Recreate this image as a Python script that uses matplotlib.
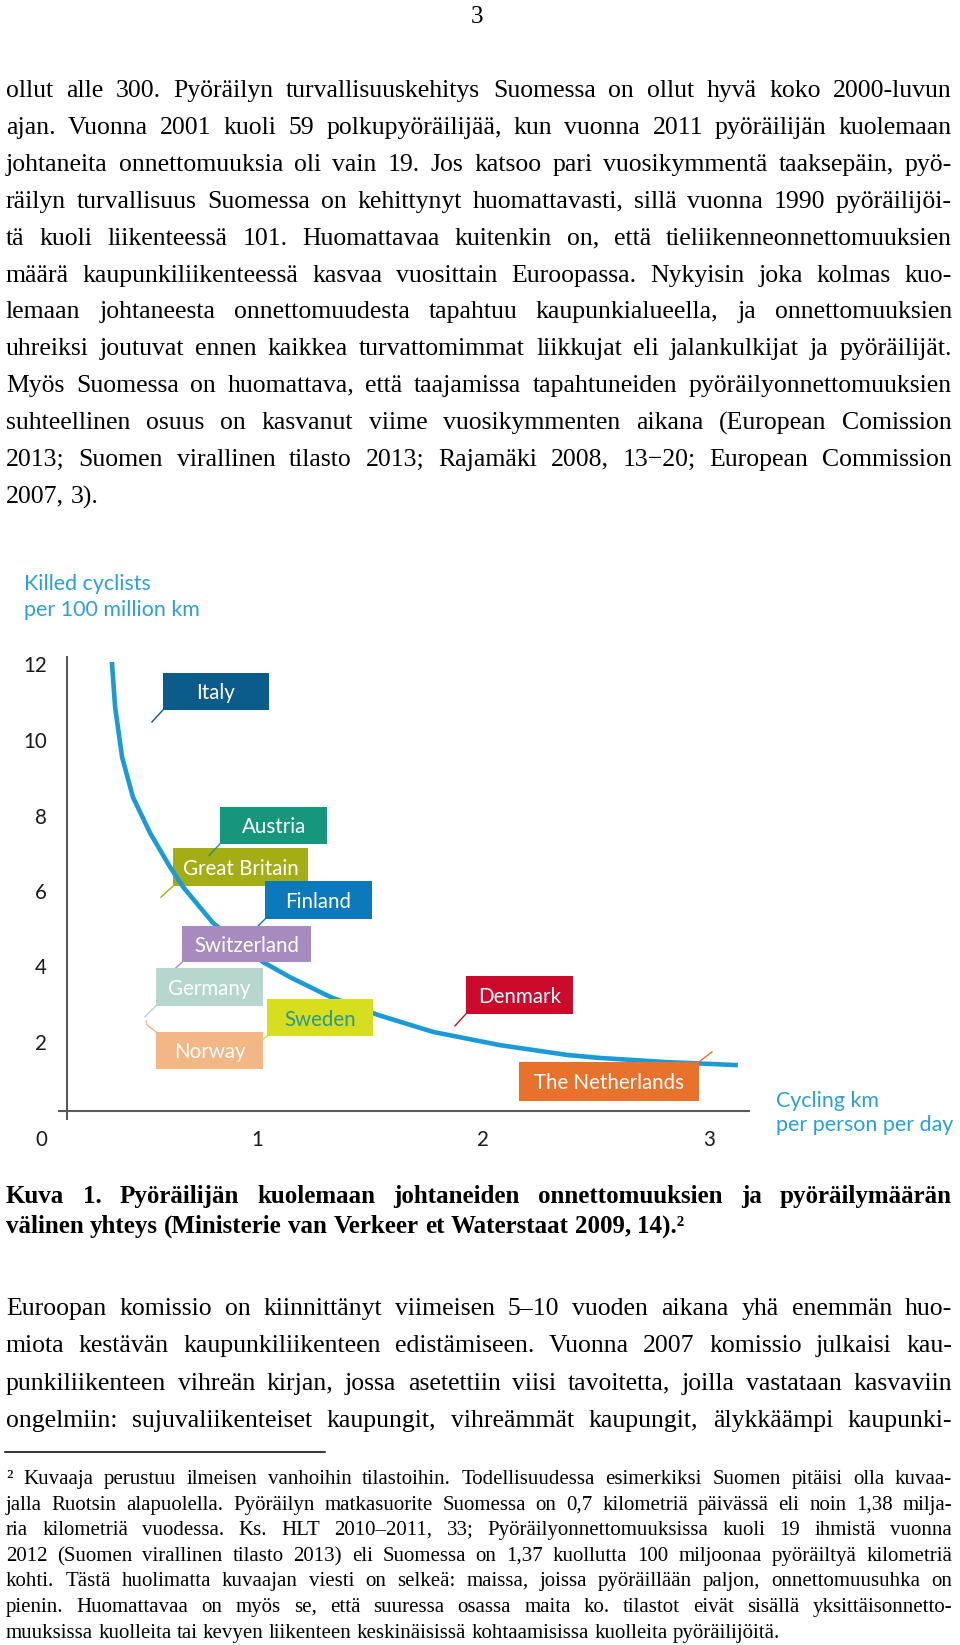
import math
import matplotlib
matplotlib.use('Agg')
import matplotlib.pyplot as plt
import matplotlib.transforms as mtransforms
from matplotlib.font_manager import FontProperties
from matplotlib.patches import Rectangle

W, H = 960, 1645

# page text
para1 = [
    "ollut alle 300. Pyöräilyn turvallisuuskehitys Suomessa on ollut hyvä koko 2000-luvun",
    "ajan. Vuonna 2001 kuoli 59 polkupyöräilijää, kun vuonna 2011 pyöräilijän kuolemaan",
    "johtaneita onnettomuuksia oli vain 19. Jos katsoo pari vuosikymmentä taaksepäin, pyö-",
    "räilyn turvallisuus Suomessa on kehittynyt huomattavasti, sillä vuonna 1990 pyöräilijöi-",
    "tä kuoli liikenteessä 101. Huomattavaa kuitenkin on, että tieliikenneonnettomuuksien",
    "määrä kaupunkiliikenteessä kasvaa vuosittain Euroopassa. Nykyisin joka kolmas kuo-",
    "lemaan johtaneesta onnettomuudesta tapahtuu kaupunkialueella, ja onnettomuuksien",
    "uhreiksi joutuvat ennen kaikkea turvattomimmat liikkujat eli jalankulkijat ja pyöräilijät.",
    "Myös Suomessa on huomattava, että taajamissa tapahtuneiden pyöräilyonnettomuuksien",
    "suhteellinen osuus on kasvanut viime vuosikymmenten aikana (European Comission",
    "2013; Suomen virallinen tilasto 2013; Rajamäki 2008, 13−20; European Commission",
    "2007, 3).",
]
caption = [
    "Kuva 1. Pyöräilijän kuolemaan johtaneiden onnettomuuksien ja pyöräilymäärän",
    "välinen yhteys (Ministerie van Verkeer et Waterstaat 2009, 14).²",
]
para2 = [
    "Euroopan komissio on kiinnittänyt viimeisen 5–10 vuoden aikana yhä enemmän huo-",
    "miota kestävän kaupunkiliikenteen edistämiseen. Vuonna 2007 komissio julkaisi kau-",
    "punkiliikenteen vihreän kirjan, jossa asetettiin viisi tavoitetta, joilla vastataan kasvaviin",
    "ongelmiin: sujuvaliikenteiset kaupungit, vihreämmät kaupungit, älykkäämpi kaupunki-",
]
footnote = [
    "² Kuvaaja perustuu ilmeisen vanhoihin tilastoihin. Todellisuudessa esimerkiksi Suomen pitäisi olla kuvaa-",
    "jalla Ruotsin alapuolella. Pyöräilyn matkasuorite Suomessa on 0,7 kilometriä päivässä eli noin 1,38 milja-",
    "ria kilometriä vuodessa. Ks. HLT 2010–2011, 33; Pyöräilyonnettomuuksissa kuoli 19 ihmistä vuonna",
    "2012 (Suomen virallinen tilasto 2013) eli Suomessa on 1,37 kuollutta 100 miljoonaa pyöräiltyä kilometriä",
    "kohti. Tästä huolimatta kuvaajan viesti on selkeä: maissa, joissa pyöräillään paljon, onnettomuusuhka on",
    "pienin. Huomattavaa on myös se, että suuressa osassa maita ko. tilastot eivät sisällä yksittäisonnetto-",
    "muuksissa kuolleita tai kevyen liikenteen keskinäisissä kohtaamisissa kuolleita pyöräilijöitä.",
]

# chart data (cycling km per person per day, killed cyclists per 100 million km)
curve_x = [0.358, 0.372, 0.403, 0.451, 0.527, 0.615, 0.673, 0.805, 1.027, 1.146,
           1.323, 1.535, 1.779, 2.075, 2.372, 2.518, 2.814, 3.128]
curve_y = [12.12, 10.93, 9.60, 8.54, 7.59, 6.69, 6.16, 5.21, 4.17, 3.77,
           3.25, 2.77, 2.32, 1.97, 1.71, 1.63, 1.52, 1.44]

countries = ["Italy", "Austria", "Great Britain", "Finland", "Switzerland",
             "Germany", "Norway", "Sweden", "Denmark", "The Netherlands"]
country_x = [0.535, 0.788, 0.575, 0.982, 0.611, 0.504, 0.509, 1.027, 1.876, 3.013]
country_y = [10.53, 6.99, 5.89, 4.99, 3.85, 2.72, 2.61, 2.13, 2.48, 1.79]
box_colors = ["#0b5b8b", "#17967e", "#a4ad14", "#0b79bb", "#a78bbf",
              "#b6d6ce", "#f2b784", "#d6de1e", "#cb0a2c", "#e8712b"]
label_colors = ["white"] * 7 + ["#2a9a8c"] + ["white"] * 2

y_ticks = [2, 4, 6, 8, 10, 12]
x_ticks = [1, 2, 3]

fig = plt.figure(figsize=(W / 100, H / 100), dpi=100)
renderer = fig.canvas.get_renderer()
SERIF = "Liberation Serif"


def text_width(s, size, **kw):
    t = fig.text(0, 0, s, fontsize=size, **kw)
    w = t.get_window_extent(renderer).width
    t.remove()
    return w


def baseline_shift(word, size, weight):
    # Agg snaps each text bitmap to whole pixels using the ink descent,
    # which moves words like "on," by a pixel; undo that per word
    prop = FontProperties(family=SERIF, size=size, weight=weight)
    _, h, d = renderer.get_text_width_height_descent(word, prop, ismath=False)
    return round(d) - math.floor(h) + math.floor(h - d)


def draw_block(lines, base0, step, max_size, weight="normal", justify_last=False,
               x0=6, x1=952):
    # one text per word, spaces stretched so each full line is justified
    n_just = len(lines) if justify_last else len(lines) - 1
    size = max_size
    for ln in lines[:n_just]:
        words = ln.split()
        need = sum(text_width(w, 10, family=SERIF, weight=weight) for w in words) / 10
        need += (len(words) - 1) * 0.17 * 100 / 72
        size = min(size, (x1 - x0) / need)
    for i, ln in enumerate(lines):
        words = ln.split()
        ws = [text_width(w, size, family=SERIF, weight=weight) for w in words]
        if i < n_just and len(words) > 1:
            gap = (x1 - x0 - sum(ws)) / (len(words) - 1)
        else:
            gap = 0.25 * size * 100 / 72
        x = x0
        y = round(base0 + i * step)
        for word, w in zip(words, ws):
            yy = y - baseline_shift(word, size, weight)
            fig.text(x / W, 1 - yy / H, word, fontsize=size, family=SERIF,
                     weight=weight, va="baseline", ha="left")
            x += w + gap


fig.text(477 / W, 1 - 23 / H, "3", fontsize=18, family=SERIF, ha="center", va="baseline")
draw_block(para1, 97, 36.9, 18.5)
draw_block(caption, 1203, 30, 18, weight="bold")
draw_block(para2, 1315, 37.3, 18.5, justify_last=True)
fig.add_artist(plt.Line2D([5 / W, 325 / W], [1 - 1452 / H, 1 - 1452 / H],
                          color="black", lw=1.1))
draw_block(footnote, 1484, 25.6, 15)

# chart
PX_X, PX_Y = 226.0, 37.75      # pixels per data unit
OX, OY = 31.0, 1119.5           # pixel position of data origin
ax = fig.add_axes([0, 1 - 1160 / H, 1, 630 / H])
ax.set_xlim(-OX / PX_X, (W - OX) / PX_X)
ax.set_ylim((OY - 1160) / PX_Y, (OY - 530) / PX_Y)
ax.axis("off")


def px(x, y):
    return (x - OX) / PX_X, (OY - y) / PX_Y


axis_col = "#58595b"
ax.plot([px(67, 0)[0]] * 2, [px(0, 1120)[1], px(0, 656)[1]], color=axis_col, lw=1.5,
        solid_capstyle="butt")
ax.plot([px(58, 0)[0], px(750, 0)[0]], [px(0, 1111)[1]] * 2, color=axis_col, lw=1.5,
        solid_capstyle="butt")
ax.plot(curve_x, curve_y, color="#1a9bd7", lw=3.3, solid_capstyle="butt", zorder=2)

tick_size = 10 * 24 / text_width("12", 10, family="Lato")
for v in y_ticks:
    ax.text(px(47, 0)[0], v, str(v), fontsize=tick_size, family="Lato",
            ha="right", va="center", color="#1a1a1a")
for v in x_ticks:
    ax.text(v, px(0, 1140)[1], str(v), fontsize=tick_size, family="Lato",
            ha="center", va="center", color="#1a1a1a")
ax.text(px(41, 0)[0], px(0, 1140)[1], "0", fontsize=tick_size, family="Lato",
        ha="center", va="center", color="#1a1a1a")

title_col = "#2b9fd8"
title_size = 10 * 175 / text_width("per 100 million km", 10, family="Lato")
ax.text(*px(24, 590), "Killed cyclists", fontsize=title_size, family="Lato",
        color=title_col, va="baseline")
ax.text(*px(24, 616), "per 100 million km", fontsize=title_size, family="Lato",
        color=title_col, va="baseline")
ax.text(*px(776, 1107), "Cycling km", fontsize=title_size, family="Lato",
        color=title_col, va="baseline")
ax.text(*px(776, 1131), "per person per day", fontsize=title_size, family="Lato",
        color=title_col, va="baseline")

# label boxes: offsets in pixels from the country point (dx, dy up, w, h)
boxes = {
    "Italy": (11, 12, 106, 37),
    "Austria": (11, 12, 107, 37),
    "Great Britain": (12, 11, 135, 38),
    "Finland": (12, 12, 107, 38),
    "Switzerland": (13, 12, 129, 36),
    "Germany": (11, 11, 107, 38),
    "Norway": (10, -48, 107, 37),
    "Sweden": (4, 3, 106, 37),
    "Denmark": (11, 12, 107, 38),
    "The Netherlands": (-193, -49, 180, 39),
}
tails = {
    "Norway": [(0, 0), (1, -4), (10, -11)],
    "The Netherlands": [(0, 0), (-13, -10)],
}
label_size = 10 * 116 / text_width("Great Britain", 10, family="Lato")

for name, cx, cy, bc, tc in zip(countries, country_x, country_y, box_colors, label_colors):
    dx, dy, w, h = boxes[name]
    off = mtransforms.ScaledTranslation(cx, cy, ax.transData)
    z = 1.5 if name == "Great Britain" else 3
    ax.add_patch(Rectangle((dx, dy), w, h, transform=off, facecolor=bc,
                           edgecolor="none", zorder=z))
    tail = tails.get(name, [(0, 0), (dx, dy)])
    ax.plot([p[0] for p in tail], [p[1] for p in tail], transform=off,
            color=bc, lw=1.0, zorder=z)
    ax.text(dx + w / 2, dy + h / 2, name, transform=off, fontsize=label_size,
            family="Lato", color=tc, ha="center", va="center_baseline", zorder=z + 0.1)

fig.savefig("out.png", dpi=100)
